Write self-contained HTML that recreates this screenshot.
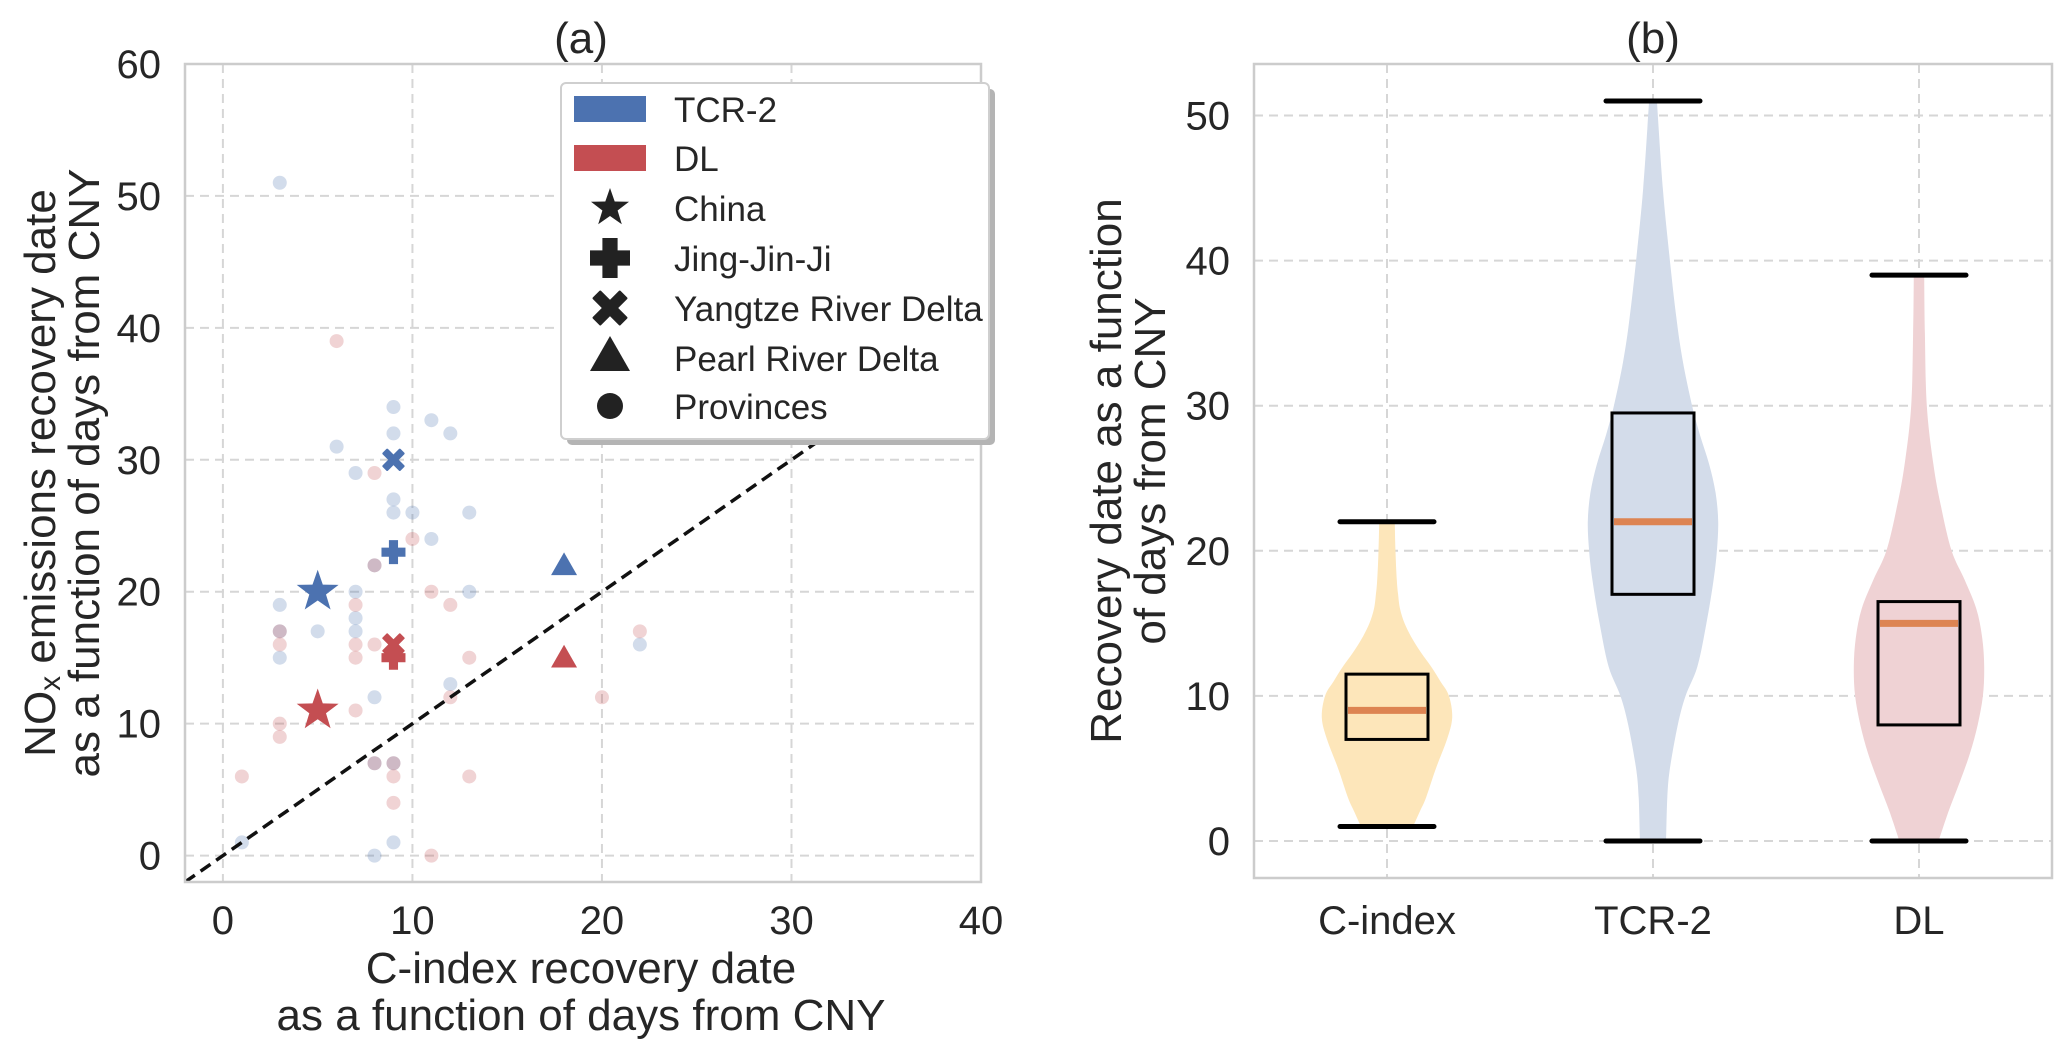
<!DOCTYPE html>
<html><head><meta charset="utf-8"><style>
body{margin:0;background:#fff;}
svg{display:block;font-family:"Liberation Sans",Arial,sans-serif;fill:#262626;}
</style></head><body>
<svg id="fig" width="2067" height="1057" viewBox="0 0 2067 1057"></svg>
<script>
// ---- panel (a) data ----
const blueProvX = [3,9,11,12,9,6,7,9,9,10,13,11,8,7,13,3,7,7,5,3,22,12,8,8,9,1,3,8,9];
const blueProvY = [51,34,33,32,32,31,29,27,26,26,26,24,22,20,20,19,18,17,17,15,16,13,12,0,1,1,17,7,7];
const redProvX = [6,8,10,11,12,7,3,22,3,7,8,7,13,8,12,20,7,3,3,1,8,9,9,13,9,11];
const redProvY = [39,29,24,20,19,19,17,17,16,16,16,15,15,22,12,12,11,10,9,6,7,7,6,6,4,0];
const regionNames = ["China","Jing-Jin-Ji","Yangtze River Delta","Pearl River Delta"];
const regionMarkers = ["star","plus","x","tri"];
const regionX = [5,9,9,18];
const regionBlueY = [20,23,30,22];
const regionRedY = [11,15,16,15];
const xTicksA = [0,10,20,30,40];
const yTicksA = [0,10,20,30,40,50,60];
// ---- panel (b) data ----
const cats = ["C-index","TCR-2","DL"];
const boxQ1 = [7,17,8];
const boxQ3 = [11.5,29.5,16.5];
const medians = [9,22,15];
const whiskLo = [1,0,0];
const whiskHi = [22,51,39];
const violinVals = [
 [1,2,3,5,7,8.5,10,11,12,13,14,15,16,17,18,20,22],
 [0,3,5,8,10,12,15,18,20,22,24,26,28,30,33,36,40,45,51],
 [0,2,4,6,8,10,12,14,16,18,20,23,26,30,35,39]];
const violinDens = [
 [0.4,0.5,0.6,0.75,0.92,1.0,0.95,0.82,0.68,0.52,0.38,0.27,0.2,0.17,0.15,0.13,0.12],
 [0.2,0.22,0.26,0.38,0.5,0.68,0.82,0.93,0.98,1.0,0.96,0.86,0.72,0.6,0.46,0.36,0.26,0.15,0.06],
 [0.3,0.45,0.62,0.78,0.9,0.98,1.0,0.97,0.88,0.7,0.5,0.34,0.22,0.12,0.09,0.08]];
const yTicksB = [0,10,20,30,40,50];
const violinColors = ["#fde6ba","#d3dcea","#efd2d4"];

const NS="http://www.w3.org/2000/svg";
const svg=document.getElementById('fig');
function mk(tag,attrs,parent){const e=document.createElementNS(NS,tag);for(const k in attrs)e.setAttribute(k,attrs[k]);(parent||svg).appendChild(e);return e;}
function txt(s,attrs,parent){const e=mk('text',attrs,parent);e.textContent=s;return e;}
const TF=40, LF=44;

// axes (a)
const A={l:185,r:981,t:64,b:882,x0:-2,x1:40,y0:-2,y1:60};
const ax=v=>A.l+(v-A.x0)/(A.x1-A.x0)*(A.r-A.l);
const ay=v=>A.b-(v-A.y0)/(A.y1-A.y0)*(A.b-A.t);
const gA=mk('g',{});


xTicksA.forEach(v=>{const l=mk('line',{x1:ax(v),x2:ax(v),y1:A.t,y2:A.b,stroke:'#d6d6d6','stroke-width':2,'stroke-dasharray':'9,6'},gA);
 
 const t=txt(String(v),{x:ax(v),y:934,'text-anchor':'middle','font-size':TF},gA);
 });
yTicksA.forEach(v=>{const l=mk('line',{x1:A.l,x2:A.r,y1:ay(v),y2:ay(v),stroke:'#d6d6d6','stroke-width':2,'stroke-dasharray':'9,6'},gA);
 
 const t=txt(String(v),{x:161,y:ay(v)+14,'text-anchor':'end','font-size':TF},gA);
 });
const defs=mk('defs',{});
const cp=mk('clipPath',{id:'clipA'},defs);mk('rect',{x:A.l,y:A.t,width:A.r-A.l,height:A.b-A.t},cp);
const gPlot=mk('g',{'clip-path':'url(#clipA)'},gA);
blueProvX.forEach((x,i)=>{const c=mk('circle',{cx:ax(x),cy:ay(blueProvY[i]),r:7,fill:'#4c72b0','fill-opacity':0.25},gPlot);
 });
redProvX.forEach((x,i)=>{const c=mk('circle',{cx:ax(x),cy:ay(redProvY[i]),r:7,fill:'#c44e52','fill-opacity':0.25},gPlot);
 });
const dl=mk('line',{x1:ax(-2),y1:ay(-2),x2:ax(40),y2:ay(40),stroke:'#111','stroke-width':3.5,'stroke-dasharray':'12,7'},gPlot);


function marker(type,cx,cy,s,color,parent){
 let e;
 if(type==='star'){let p=[];for(let i=0;i<10;i++){const a=-Math.PI/2+i*Math.PI/5;const r=i%2?s*0.4:s;p.push((cx+r*Math.cos(a)).toFixed(1)+','+(cy+r*Math.sin(a)).toFixed(1));}
  e=mk('polygon',{points:p.join(' '),fill:color},parent);}
 else if(type==='plus'){const w=s*0.38;e=mk('path',{d:`M${cx-w},${cy-s}h${2*w}v${s-w}h${s-w}v${2*w}h${-(s-w)}v${s-w}h${-2*w}v${-(s-w)}h${-(s-w)}v${-2*w}h${s-w}z`,fill:color},parent);}
 else if(type==='x'){e=mk('g',{},parent);const w=s*0.34;
  [45,-45].forEach(r=>mk('rect',{x:cx-s*1.15,y:cy-w,width:s*2.3,height:2*w,rx:1,fill:color,transform:`rotate(${r} ${cx} ${cy})`},e));}
 else if(type==='tri'){e=mk('polygon',{points:`${cx},${cy-s} ${cx+s},${cy+s*0.75} ${cx-s},${cy+s*0.75}`,fill:color},parent);}
 else {e=mk('circle',{cx:cx,cy:cy,r:s,fill:color},parent);}
 return e;}
const sizes={star:22,plus:12,x:11,tri:13};
regionX.forEach((x,i)=>{const m=regionMarkers[i];
 const b=marker(m,ax(x),ay(regionBlueY[i]),sizes[m],'#4c72b0',gPlot);
 
 const r=marker(m,ax(x),ay(regionRedY[i]),sizes[m],'#c44e52',gPlot);
 });
const frA=mk('rect',{x:A.l,y:A.t,width:A.r-A.l,height:A.b-A.t,fill:'none',stroke:'#cccccc','stroke-width':2.5},gA);

const gL=mk('g',{},gA);

mk('rect',{x:567,y:89,width:428,height:356,rx:5,fill:'#b4b4b4'},gL);
mk('rect',{x:561,y:83,width:428,height:356,rx:5,fill:'#fff',stroke:'#cfcfcf','stroke-width':2},gL);
const rowY=[109,158,208,258,308,358,406];
const legLabels=["TCR-2","DL"].concat(regionNames).concat(["Provinces"]);
legLabels.forEach((s,i)=>{
 let m;
 if(i<2){m=mk('rect',{x:574,y:rowY[i]-13,width:72,height:26,fill:i?'#c44e52':'#4c72b0'},gL);}
 else{const types=['star','plus','x','tri','circ'];const sz={star:20,plus:20,x:17,tri:20,circ:13};const t=types[i-2];m=marker(t,610,rowY[i]+(t==='tri'?-2:0),sz[t],'#222',gL);}
 
 const t=txt(s,{x:674,y:rowY[i]+13,'font-size':35},gL);
 });
const tA=txt('(a)',{x:581,y:53,'text-anchor':'middle','font-size':LF},gA);

const xlA=mk('text',{x:581,'text-anchor':'middle','font-size':LF},gA);

mk('tspan',{x:581,y:983},xlA).textContent='C-index recovery date';
mk('tspan',{x:581,y:1030},xlA).textContent='as a function of days from CNY';
const ylA=mk('text',{transform:'translate(0,473) rotate(-90)','text-anchor':'middle','font-size':LF},gA);

const ts1=mk('tspan',{x:0,y:55},ylA);ts1.textContent='NO';
const sub=mk('tspan',{'font-size':30,dy:5},ylA);sub.textContent='x';
const ts1b=mk('tspan',{dy:-5},ylA);ts1b.textContent=' emissions recovery date';
mk('tspan',{x:0,y:99},ylA).textContent='as a function of days from CNY';

// axes (b)
const B={l:1254,r:2052,t:64,b:878,y0:-2.55,y1:53.55,x0:0.5,x1:3.5};
const bx=v=>B.l+(v-B.x0)/(B.x1-B.x0)*(B.r-B.l);
const by=v=>B.b-(v-B.y0)/(B.y1-B.y0)*(B.b-B.t);
const gB=mk('g',{});

yTicksB.forEach(v=>{const l=mk('line',{x1:B.l,x2:B.r,y1:by(v),y2:by(v),stroke:'#d6d6d6','stroke-width':2,'stroke-dasharray':'9,6'},gB);
 
 const t=txt(String(v),{x:1230,y:by(v)+14,'text-anchor':'end','font-size':TF},gB);
 });
cats.forEach((c,i)=>{const x=bx(i+1);
 const l=mk('line',{x1:x,x2:x,y1:B.t,y2:B.b,stroke:'#d6d6d6','stroke-width':2,'stroke-dasharray':'9,6'},gB);
 
 const t=txt(c,{x:x,y:934,'text-anchor':'middle','font-size':TF},gB);
 });
const halfMax=(B.r-B.l)/3*0.245;
function smoothPath(pts){let d='M'+pts[0][0]+','+pts[0][1];
 for(let i=0;i<pts.length-1;i++){const p0=pts[i-1]||pts[i],p1=pts[i],p2=pts[i+1],p3=pts[i+2]||p2;
  const c1=[p1[0]+(p2[0]-p0[0])/6,p1[1]+(p2[1]-p0[1])/6],c2=[p2[0]-(p3[0]-p1[0])/6,p2[1]-(p3[1]-p1[1])/6];
  d+=`C${c1[0].toFixed(1)},${c1[1].toFixed(1)} ${c2[0].toFixed(1)},${c2[1].toFixed(1)} ${p2[0].toFixed(1)},${p2[1].toFixed(1)}`;}
 return d;}
cats.forEach((c,i)=>{const x=bx(i+1);const vs=violinVals[i],ds=violinDens[i];
 const right=vs.map((v,k)=>[x+ds[k]*halfMax,by(v)]);
 const left=vs.map((v,k)=>[x-ds[k]*halfMax,by(v)]).reverse();
 let d=smoothPath(right)+'L'+left[0][0].toFixed(1)+','+left[0][1].toFixed(1)+smoothPath(left).slice(smoothPath(left).indexOf('C'))+'Z';
 const p=mk('path',{d:d,fill:violinColors[i]},gB);
 
 const bw=41,cw=47;
 const bx1=mk('rect',{x:x-bw,y:by(boxQ3[i]),width:2*bw,height:by(boxQ1[i])-by(boxQ3[i]),fill:'none',stroke:'#000','stroke-width':3},gB);
 
 const md=mk('line',{x1:x-bw+2,x2:x+bw-2,y1:by(medians[i]),y2:by(medians[i]),stroke:'#dd8452','stroke-width':7},gB);
 
 [whiskLo[i],whiskHi[i]].forEach(v=>{const w=mk('line',{x1:x-cw,x2:x+cw,y1:by(v),y2:by(v),stroke:'#000','stroke-width':5,'stroke-linecap':'round'},gB);
  });
});
const frB=mk('rect',{x:B.l,y:B.t,width:B.r-B.l,height:B.b-B.t,fill:'none',stroke:'#cccccc','stroke-width':2.5},gB);

const tB=txt('(b)',{x:1653,y:53,'text-anchor':'middle','font-size':LF},gB);

const ylB=mk('text',{transform:'translate(0,471) rotate(-90)','text-anchor':'middle','font-size':LF},gB);

mk('tspan',{x:0,y:1121},ylB).textContent='Recovery date as a function';
mk('tspan',{x:0,y:1165},ylB).textContent='of days from CNY';
</script>
</body></html>
